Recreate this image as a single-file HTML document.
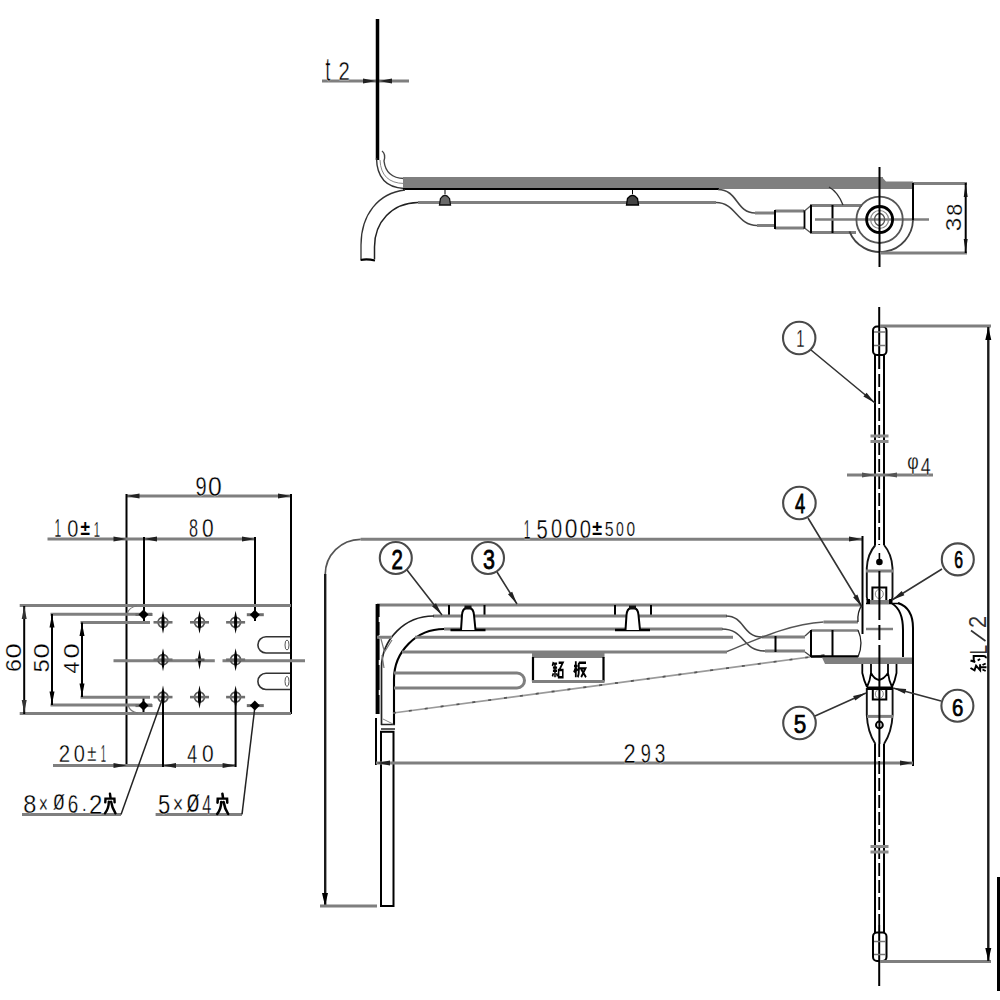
<!DOCTYPE html>
<html><head><meta charset="utf-8">
<style>
html,body{margin:0;padding:0;background:#fff;width:1000px;height:1000px;overflow:hidden}
svg{display:block;position:absolute;left:0;top:0}
text{font-family:"Liberation Sans",sans-serif}
.sr{font-family:"Liberation Serif",serif}
</style></head><body>
<svg width="1000" height="1000" viewBox="0 0 1000 1000">
<rect x="0" y="0" width="1000" height="1000" fill="#fff"/>

<!-- ============ TOP VIEW ============ -->
<g id="top">
<!-- t2 -->
<line x1="322" y1="81" x2="409" y2="81" stroke="#7f7f7f" stroke-width="3"/>
<line x1="377.5" y1="19" x2="377.5" y2="160" stroke="#000" stroke-width="3.5"/>
<path d="M376,81 L363,78.5 L363,83.5 Z M379,81 L392,78.5 L392,83.5 Z" fill="#222"/>
<!-- bend double lines -->
<path d="M376.5,158 Q377,187 404,188.5" fill="none" stroke="#333" stroke-width="1.4"/>
<path d="M380,160 Q381,183 404,183.5" fill="none" stroke="#888" stroke-width="1"/>
<path d="M382,151 Q386,154 384,161 Q386,178 404,178.5" fill="none" stroke="#444" stroke-width="1.4"/>
<!-- gray bar -->
<rect x="403" y="177" width="480" height="12" fill="#7f7f7f"/>
<path d="M882,177 L886,181.5 L913,181.5 L913,189 L882,189 Z" fill="#7f7f7f"/>
<line x1="913" y1="183.5" x2="967" y2="183.5" stroke="#7f7f7f" stroke-width="3"/>
<line x1="403" y1="189" x2="719" y2="189" stroke="#000" stroke-width="2.2"/>
<!-- lower hook -->
<path d="M405,190 C378,193 361,215 361,245 L361,259" fill="none" stroke="#333" stroke-width="1.3"/>
<path d="M418,202.5 C392,203 374.5,222 374.5,247 L374.5,259" fill="none" stroke="#222" stroke-width="1.5"/>
<path d="M360.5,260 Q367,258.5 375,260.5" fill="none" stroke="#000" stroke-width="2.2"/>
<line x1="418" y1="202.5" x2="716" y2="202.5" stroke="#7f7f7f" stroke-width="3"/>
<!-- bumps -->
<path d="M439.5,205 L440.5,198.5 Q445,192 449.5,198.5 L450.5,205 Z" fill="#6a6a6a" stroke="#111" stroke-width="1.3"/>
<line x1="445" y1="189" x2="445" y2="194" stroke="#000" stroke-width="1"/>
<path d="M626.5,205 L627.5,198.5 Q632.5,192 637.5,198.5 L638.5,205 Z" fill="#444" stroke="#000" stroke-width="1.3"/>
<line x1="632.5" y1="189" x2="632.5" y2="194" stroke="#000" stroke-width="1"/>
<!-- S curves -->
<path d="M718,189.5 C738,189.5 736,213 755,213" fill="none" stroke="#444" stroke-width="1.6"/>
<path d="M755,213 H775" stroke="#7f7f7f" stroke-width="3"/>
<path d="M716,202.5 C736,202.5 737,225.5 757,225.5" fill="none" stroke="#444" stroke-width="1.6"/>
<path d="M757,225.5 H775" stroke="#7f7f7f" stroke-width="3"/>
<!-- ferrule -->
<line x1="775" y1="211" x2="804" y2="211" stroke="#7f7f7f" stroke-width="3"/>
<line x1="775" y1="228" x2="804" y2="228" stroke="#7f7f7f" stroke-width="3"/>
<line x1="775" y1="210" x2="775" y2="229" stroke="#000" stroke-width="2"/>
<line x1="804.5" y1="210" x2="804.5" y2="229" stroke="#000" stroke-width="1.8"/>
<path d="M804.5,211 L811,205.5 M804.5,228 L811,233" stroke="#555" stroke-width="1.3"/>
<line x1="810" y1="205.5" x2="862" y2="205.5" stroke="#7f7f7f" stroke-width="3"/>
<line x1="810" y1="232.5" x2="856" y2="232.5" stroke="#7f7f7f" stroke-width="3"/>
<line x1="811" y1="205" x2="811" y2="233" stroke="#000" stroke-width="2"/>
<line x1="832.5" y1="205" x2="832.5" y2="233" stroke="#000" stroke-width="2"/>
<line x1="815" y1="219.5" x2="929" y2="219.5" stroke="#7f7f7f" stroke-width="2.5"/>
<!-- small arc -->
<path d="M829,187 Q838,192 843,205" fill="none" stroke="#333" stroke-width="1.3"/>
<!-- eye -->
<path d="M849.4,231.3 A33,33 0 0 0 913,220" fill="none" stroke="#444" stroke-width="1.8"/>
<circle cx="879.6" cy="219.8" r="23.2" fill="none" stroke="#555" stroke-width="1.8"/>
<circle cx="879.6" cy="219.5" r="13" fill="none" stroke="#000" stroke-width="2.8"/>
<circle cx="879.6" cy="219.5" r="9" fill="none" stroke="#888" stroke-width="1.2"/>
<ellipse cx="879.6" cy="219.5" rx="5" ry="6" fill="none" stroke="#555" stroke-width="1.3"/>
<line x1="879.5" y1="167" x2="879.5" y2="267" stroke="#000" stroke-width="2"/>
<line x1="913" y1="183" x2="913" y2="220" stroke="#000" stroke-width="2"/>
<line x1="880" y1="253" x2="967" y2="253" stroke="#7f7f7f" stroke-width="3"/>
<!-- 38 dim -->
<line x1="965.7" y1="183" x2="965.7" y2="253" stroke="#000" stroke-width="2"/>
<path d="M965.7,184 L963.7,197 L967.7,197 Z M965.7,252 L963.7,239 L967.7,239 Z" fill="#111"/>
</g>


<!-- ============ PLAN VIEW ============ -->
<g id="plan">
<!-- 15000 dim -->
<path d="M862,539.3 L360.6,539.3" fill="none" stroke="#7f7f7f" stroke-width="3"/>
<path d="M360.6,539.3 A35.4,35.4 0 0 0 325.2,574.7" fill="none" stroke="#555" stroke-width="1.7"/>
<line x1="325.2" y1="574" x2="325.2" y2="906" stroke="#1a1a1a" stroke-width="2.4"/>
<path d="M325,906 L322,893 L328,893 Z" fill="#000"/>
<line x1="320" y1="906" x2="377" y2="906" stroke="#7f7f7f" stroke-width="3"/>
<path d="M862,539 L849,536.5 L849,541.5 Z" fill="#222"/>
<line x1="862.5" y1="536" x2="862.5" y2="634" stroke="#000" stroke-width="2"/>

<!-- outline -->
<line x1="377" y1="605" x2="862" y2="605" stroke="#7f7f7f" stroke-width="3"/>
<line x1="377.6" y1="604" x2="377.6" y2="714" stroke="#000" stroke-width="4"/>
<path d="M379.5,617 v5 M379.5,635 v4 M379.5,660 v5 M379.5,690 v5" stroke="#fff" stroke-width="1.5"/>
<line x1="376" y1="718" x2="376" y2="765" stroke="#000" stroke-width="2"/>
<path d="M449,605 V615 M484.5,605 V615 M615,605 V615 M651,605 V615" stroke="#000" stroke-width="2"/>
<!-- pipe -->
<path d="M727,616 L433,616" fill="none" stroke="#7f7f7f" stroke-width="3"/>
<path d="M434,616 A52,52 0 0 0 381.5,668 L381.5,725" fill="none" stroke="#222" stroke-width="1.7"/>
<path d="M722.5,629 L444,629" fill="none" stroke="#7f7f7f" stroke-width="3"/>
<path d="M444,629 A50,50 0 0 0 394,679 L394,725" fill="none" stroke="#000" stroke-width="2.1"/>
<path d="M381,724.5 H395 M381,729 H395" stroke="#222" stroke-width="1.5"/>
<path d="M383,719 L393,724" stroke="#888" stroke-width="1"/>
<rect x="381" y="731.8" width="12.5" height="174.2" fill="none" stroke="#000" stroke-width="2"/>
<!-- inner lines -->
<path d="M377,637.2 H392 M415,637.2 H733" stroke="#7f7f7f" stroke-width="3"/>
<path d="M402,652 H727" stroke="#7f7f7f" stroke-width="3"/>
<path d="M394,673 H517 A7.5,7.5 0 0 1 517,688 H394" fill="none" stroke="#7f7f7f" stroke-width="3"/>
<!-- hatching at left -->
<path d="M381,639 L384.5,652 L392,640 M382,655 L384,668" fill="none" stroke="#777" stroke-width="1.2"/>
<!-- nameplate -->
<rect x="532" y="651" width="72.5" height="7" fill="#7f7f7f"/>
<path d="M533,657 V681.5 M603.5,657 V681.5" stroke="#000" stroke-width="2.2"/>
<line x1="532" y1="681.5" x2="604.5" y2="681.5" stroke="#7f7f7f" stroke-width="3"/>
<!-- diagonal dashed -->
<line x1="393" y1="713" x2="825" y2="655" stroke="#9a9a9a" stroke-width="1.7"/>
<line x1="393" y1="713" x2="825" y2="655" stroke="#555" stroke-width="1.7" stroke-dasharray="3,13"/>
<!-- clips -->
<g id="clip1">
<path d="M450.5,630 H485.5" stroke="#000" stroke-width="2.6"/>
<path d="M461,630 L462,615 Q462.5,609 466,608 H470 Q473.5,609 474,615 L475.5,630" fill="#fff" stroke="#000" stroke-width="2"/>
<rect x="464.5" y="605.5" width="7" height="4" fill="#111"/>
</g>
<g transform="translate(164.5,0)">
<path d="M450.5,630 H485.5" stroke="#000" stroke-width="2.6"/>
<path d="M461,630 L462,615 Q462.5,609 466,608 H470 Q473.5,609 474,615 L475.5,630" fill="#fff" stroke="#000" stroke-width="2"/>
<rect x="464.5" y="605.5" width="7" height="4" fill="#111"/>
</g>
<!-- S curves -->
<path d="M726,616 C745,616 742,637 762,637" fill="none" stroke="#444" stroke-width="1.6"/>
<path d="M762,637 H805" stroke="#7f7f7f" stroke-width="3"/>
<path d="M722,629 C745,629 742,651 765,651" fill="none" stroke="#444" stroke-width="1.6"/>
<path d="M765,651 H805" stroke="#7f7f7f" stroke-width="3"/>
<path d="M727,651.5 C760,638 790,624 823.5,622" fill="none" stroke="#555" stroke-width="1.5"/>
<path d="M823.5,622 H858" stroke="#7f7f7f" stroke-width="3"/>
<line x1="775.5" y1="636" x2="775.5" y2="652" stroke="#000" stroke-width="2"/>
<!-- ferrule -->
<path d="M805,636 L811,630.5 M805,652 L811,656.5" stroke="#444" stroke-width="1.3"/>
<line x1="811" y1="630.5" x2="858" y2="630.5" stroke="#7f7f7f" stroke-width="2.5"/>
<line x1="811" y1="656.5" x2="858" y2="656.5" stroke="#000" stroke-width="2.5"/>
<line x1="811" y1="630" x2="811" y2="657" stroke="#000" stroke-width="2"/>
<line x1="832.5" y1="630" x2="832.5" y2="657" stroke="#000" stroke-width="2"/>
<path d="M858,630 Q864,643 858,657" fill="none" stroke="#222" stroke-width="1.3"/>
<path d="M862,605 Q857,612 858,622" fill="none" stroke="#222" stroke-width="1.3"/>
<!-- gray base bar -->
<path d="M822,657.5 H913 V664 H825 Z" fill="#7f7f7f"/>
<!-- fitting body -->
<line x1="866" y1="603.5" x2="900" y2="603.5" stroke="#000" stroke-width="1.5"/>
<path d="M892,603.5 Q903,610 903,630 V657" fill="none" stroke="#000" stroke-width="2"/>
<path d="M898,603 Q913,608 913,628 V766" fill="none" stroke="#000" stroke-width="2"/>
<line x1="866" y1="629" x2="893" y2="629" stroke="#7f7f7f" stroke-width="2.5"/>
<!-- W shape below bar -->
<path d="M862.3,664 V673 Q864,681 867,687 M871,664 V673 Q870,681 867,687 M871,673 Q874,679 879,680 M888,664 V673 Q884,679 879,680 M888,673 Q889,681 892,687 M896.5,664 V673 Q895,681 892,687" fill="none" stroke="#000" stroke-width="1.8"/>
<!-- upper eye -->
<path d="M875.4,545 Q867.5,554 866.8,568 V597 Q867,600 869,601 M884,545 Q891.8,554 892.5,568 V597 Q892.3,600 890.5,601" fill="none" stroke="#111" stroke-width="1.9"/>
<line x1="866" y1="571" x2="893" y2="571" stroke="#7f7f7f" stroke-width="3"/>
<circle cx="879.4" cy="562" r="3.3" fill="#000"/>
<path d="M879.4,553 V562" stroke="#000" stroke-width="1.6"/>
<path d="M872.4,600 V587.5 H886.3 V600" fill="none" stroke="#000" stroke-width="2"/>
<ellipse cx="879.3" cy="594" rx="4" ry="4.5" fill="none" stroke="#888" stroke-width="1"/>
<rect x="867" y="600" width="25" height="4" fill="#7f7f7f"/>
<rect x="866.5" y="599" width="3.5" height="5" fill="#000"/>
<rect x="889" y="599" width="3.5" height="5" fill="#000"/>
<!-- lower eye -->
<path d="M866.8,688 V715 Q867.5,732 875.4,744 M892.6,688 V715 Q891.8,732 884,744" fill="none" stroke="#111" stroke-width="1.9"/>
<line x1="867" y1="716.4" x2="893" y2="716.4" stroke="#7f7f7f" stroke-width="3"/>
<circle cx="879.4" cy="725" r="3.4" fill="none" stroke="#000" stroke-width="2"/>
<path d="M872.8,689 V699.5 H886.3 V689" fill="none" stroke="#000" stroke-width="2"/>
<ellipse cx="879.3" cy="694" rx="4" ry="4.5" fill="none" stroke="#888" stroke-width="1"/>
<rect x="866.8" y="686.5" width="26.2" height="3.5" fill="#000"/>
<!-- 293 dim -->
<line x1="376" y1="763" x2="913" y2="763" stroke="#7f7f7f" stroke-width="3"/>
<path d="M377,763 L390,760.5 L390,765.5 Z M913,763 L900,760.5 L900,765.5 Z" fill="#222"/>
</g>

<!-- ============ ROD ============ -->
<g id="rod">
<path d="M875,355 V545 M884,355 V545 M875,744 V933 M884,744 V933" stroke="#000" stroke-width="2"/>
<line x1="879.2" y1="307" x2="879.2" y2="369" stroke="#000" stroke-width="2"/>
<line x1="879.2" y1="374" x2="879.2" y2="545" stroke="#000" stroke-width="1.8" stroke-dasharray="13,4"/>
<path d="M879.4,571 V620 M879.4,625 V640 M879.4,645 V744" stroke="#000" stroke-width="2"/>
<line x1="879.2" y1="744" x2="879.2" y2="925" stroke="#000" stroke-width="1.8" stroke-dasharray="13,4"/>
<line x1="879.2" y1="925" x2="879.2" y2="986" stroke="#000" stroke-width="2"/>
<rect x="873" y="326.5" width="13.5" height="28.5" rx="4" fill="none" stroke="#000" stroke-width="2"/>
<path d="M874,332 H886 M874,345.5 H886" stroke="#777" stroke-width="1.5"/>
<rect x="873" y="932.5" width="13.5" height="28.5" rx="4" fill="none" stroke="#000" stroke-width="2"/>
<path d="M874,941.5 H886 M874,954.5 H886" stroke="#777" stroke-width="1.5"/>
<path d="M870.5,436 H888.5 M870.5,441.5 H888.5" stroke="#8a8a8a" stroke-width="3"/>
<path d="M870.5,846.5 H888.5 M870.5,852 H888.5" stroke="#8a8a8a" stroke-width="3"/>
<!-- phi4 -->
<line x1="847" y1="475" x2="933" y2="475" stroke="#7f7f7f" stroke-width="3"/>
<path d="M875,475 L862,472.5 L862,477.5 Z M884,475 L897,472.5 L897,477.5 Z" fill="#555"/>
<!-- L/2 dim -->
<line x1="880" y1="326" x2="991" y2="326" stroke="#7f7f7f" stroke-width="3"/>
<line x1="880" y1="961.5" x2="991" y2="961.5" stroke="#7f7f7f" stroke-width="3"/>
<line x1="988.3" y1="327" x2="988.3" y2="961" stroke="#1a1a1a" stroke-width="2.4"/>
<path d="M988.3,327 L985.3,340 L991.3,340 Z M988.3,961 L985.3,948 L991.3,948 Z" fill="#000"/>
<rect x="997" y="877" width="3" height="114" fill="#000"/>
</g>


<!-- ============ BALLOONS ============ -->
<g id="balloons" fill="none" stroke="#4a4a4a" stroke-width="2.1">
<circle cx="799.2" cy="338" r="16.2"/>
<circle cx="395.8" cy="558" r="16"/>
<circle cx="488" cy="558" r="16"/>
<circle cx="799.4" cy="503" r="16.3"/>
<circle cx="799.5" cy="723" r="16.3"/>
<circle cx="957.8" cy="559.4" r="16"/>
<circle cx="957.4" cy="705.8" r="16"/>
<path d="M811,350 L875,403 M407,570 L442,615 M497,572 L517,604 M808,518 L862,607 M815,716 L866,693 M942,569 L892,600 M941,701 L893,688" stroke="#333" stroke-width="1.6"/>
</g>
<g fill="#222">
<path d="M875,403 L863.4,396.6 L866.6,392.8 Z"/>
<path d="M442,615 L432.0,606.3 L436.0,603.2 Z"/>
<path d="M517,604 L508.0,594.3 L512.2,591.7 Z"/>
<path d="M862,607 L853.1,597.2 L857.4,594.6 Z"/>
<path d="M866,693 L855.2,700.6 L853.1,696.1 Z"/>
<path d="M892,600 L901.7,591.0 L904.4,595.3 Z"/>
<path d="M893,688 L906.2,689.0 L904.9,693.8 Z"/>
</g>

<!-- ============ PLATE VIEW ============ -->
<g id="plate">
<!-- 90 -->
<line x1="126.5" y1="496" x2="291" y2="496" stroke="#7f7f7f" stroke-width="3"/>
<path d="M126.5,496 L139.5,493.5 L139.5,498.5 Z M291,496 L278,493.5 L278,498.5 Z" fill="#222"/>
<line x1="126.5" y1="494" x2="126.5" y2="767" stroke="#000" stroke-width="2"/>
<line x1="291" y1="494" x2="291" y2="714" stroke="#000" stroke-width="2"/>
<!-- 80 / 10±1 -->
<line x1="47.5" y1="539" x2="255" y2="539" stroke="#7f7f7f" stroke-width="3"/>
<path d="M126.5,539 L113.5,536.5 L113.5,541.5 Z M144,539 L157,536.5 L157,541.5 Z M255,539 L242,536.5 L242,541.5 Z" fill="#222"/>
<line x1="144" y1="537" x2="144" y2="621" stroke="#000" stroke-width="2"/>
<line x1="255" y1="537" x2="255" y2="621" stroke="#000" stroke-width="2"/>
<line x1="143.5" y1="698" x2="143.5" y2="714" stroke="#000" stroke-width="2"/>
<!-- plate lines -->
<line x1="19.7" y1="605.5" x2="291" y2="605.5" stroke="#7f7f7f" stroke-width="3"/>
<line x1="19.7" y1="713.5" x2="291" y2="713.5" stroke="#7f7f7f" stroke-width="3"/>
<line x1="50.5" y1="614.2" x2="152" y2="614.2" stroke="#7f7f7f" stroke-width="3"/>
<line x1="50.5" y1="705" x2="152" y2="705" stroke="#7f7f7f" stroke-width="3"/>
<line x1="80.5" y1="622.5" x2="150" y2="622.5" stroke="#7f7f7f" stroke-width="3"/>
<line x1="80.5" y1="697.2" x2="150" y2="697.2" stroke="#7f7f7f" stroke-width="3"/>
<path d="M113.5,660.7 H214.8 M222.5,660.7 H305" stroke="#7f7f7f" stroke-width="3"/>
<!-- 60/50/40 verticals -->
<line x1="24.2" y1="606" x2="24.2" y2="714" stroke="#000" stroke-width="2"/>
<path d="M24.2,606 L21.7,619 L26.7,619 Z M24.2,713 L21.7,700 L26.7,700 Z" fill="#333"/>
<line x1="52" y1="614" x2="52" y2="705" stroke="#000" stroke-width="2"/>
<path d="M52,614.5 L49.5,627.5 L54.5,627.5 Z M52,704.5 L49.5,691.5 L54.5,691.5 Z" fill="#000"/>
<line x1="82" y1="622.5" x2="82" y2="697" stroke="#000" stroke-width="2"/>
<path d="M82,623 L79.5,636 L84.5,636 Z M82,696.5 L79.5,683.5 L84.5,683.5 Z" fill="#000"/>
<!-- chamfer marks -->
<path d="M127,614 Q129,607 137,606 M128,705 Q130,712 138,713" fill="none" stroke="#777" stroke-width="1.2"/>
<!-- slots -->
<path d="M290,636.8 H266 A8.1,8.1 0 0 0 266,653 H290" fill="none" stroke="#333" stroke-width="1.6"/>
<path d="M290,673.3 H266 A8.1,8.1 0 0 0 266,689.5 H290" fill="none" stroke="#333" stroke-width="1.6"/>
<ellipse cx="287" cy="645" rx="2" ry="5" fill="none" stroke="#555" stroke-width="1"/>
<ellipse cx="287" cy="681.4" rx="2" ry="5" fill="none" stroke="#555" stroke-width="1"/>
<!-- 20±1 / 40 -->
<line x1="53" y1="765.6" x2="235.6" y2="765.6" stroke="#7f7f7f" stroke-width="3"/>
<path d="M126.5,765.6 L113.5,763 L113.5,768 Z M163,765.6 L176,763 L176,768 Z M235.6,765.6 L222.6,763 L222.6,768 Z" fill="#222"/>
<line x1="163" y1="697" x2="163" y2="767" stroke="#000" stroke-width="2"/>
<line x1="235.6" y1="697" x2="235.6" y2="767" stroke="#000" stroke-width="2"/>
<!-- notes -->
<line x1="22" y1="814.4" x2="121" y2="814.4" stroke="#7f7f7f" stroke-width="3"/>
<line x1="121" y1="814.4" x2="163" y2="697" stroke="#222" stroke-width="1.5"/>
<line x1="155.6" y1="814.4" x2="242" y2="814.4" stroke="#7f7f7f" stroke-width="3"/>
<line x1="242" y1="814.4" x2="255" y2="706" stroke="#222" stroke-width="1.5"/>
</g>

<!-- holes -->
<g id="holes">
<circle cx="163" cy="622.3" r="5" fill="none" stroke="#555" stroke-width="1.7"/>
<path d="M153.5,622.3 H172.5" stroke="#6f6f6f" stroke-width="2.6"/>
<path d="M163,610.8 L164.5,618.3 L164.5,626.3 L163,633.8 L161.5,626.3 L161.5,618.3 Z" fill="#000"/>
<circle cx="199.5" cy="622.3" r="5" fill="none" stroke="#555" stroke-width="1.7"/>
<path d="M190.0,622.3 H209.0" stroke="#6f6f6f" stroke-width="2.6"/>
<path d="M199.5,610.8 L201.0,618.3 L201.0,626.3 L199.5,633.8 L198.0,626.3 L198.0,618.3 Z" fill="#000"/>
<circle cx="235.6" cy="622.3" r="5" fill="none" stroke="#555" stroke-width="1.7"/>
<path d="M226.1,622.3 H245.1" stroke="#6f6f6f" stroke-width="2.6"/>
<path d="M235.6,610.8 L237.1,618.3 L237.1,626.3 L235.6,633.8 L234.1,626.3 L234.1,618.3 Z" fill="#000"/>
<circle cx="163" cy="659.7" r="5" fill="none" stroke="#555" stroke-width="1.7"/>
<path d="M153.5,659.7 H172.5" stroke="#6f6f6f" stroke-width="2.6"/>
<path d="M163,648.2 L164.5,655.7 L164.5,663.7 L163,671.2 L161.5,663.7 L161.5,655.7 Z" fill="#000"/>
<path d="M199.5,649.7 L201.3,659.7 L199.5,669.7 L197.7,659.7 Z" fill="#000"/>
<path d="M195.5,659.7 L204.5,659.7" stroke="#555" stroke-width="2.5"/>
<circle cx="235.6" cy="659.7" r="5" fill="none" stroke="#555" stroke-width="1.7"/>
<path d="M226.1,659.7 H245.1" stroke="#6f6f6f" stroke-width="2.6"/>
<path d="M235.6,648.2 L237.1,655.7 L237.1,663.7 L235.6,671.2 L234.1,663.7 L234.1,655.7 Z" fill="#000"/>
<circle cx="163" cy="697.1" r="5" fill="none" stroke="#555" stroke-width="1.7"/>
<path d="M153.5,697.1 H172.5" stroke="#6f6f6f" stroke-width="2.6"/>
<path d="M163,685.6 L164.5,693.1 L164.5,701.1 L163,708.6 L161.5,701.1 L161.5,693.1 Z" fill="#000"/>
<circle cx="199.5" cy="697.1" r="5" fill="none" stroke="#555" stroke-width="1.7"/>
<path d="M190.0,697.1 H209.0" stroke="#6f6f6f" stroke-width="2.6"/>
<path d="M199.5,685.6 L201.0,693.1 L201.0,701.1 L199.5,708.6 L198.0,701.1 L198.0,693.1 Z" fill="#000"/>
<circle cx="235.6" cy="697.1" r="5" fill="none" stroke="#555" stroke-width="1.7"/>
<path d="M226.1,697.1 H245.1" stroke="#6f6f6f" stroke-width="2.6"/>
<path d="M235.6,685.6 L237.1,693.1 L237.1,701.1 L235.6,708.6 L234.1,701.1 L234.1,693.1 Z" fill="#000"/>
<path d="M135.5,614.5 H152.5" stroke="#6f6f6f" stroke-width="3"/>
<path d="M143.5,609.5 L148.5,614.5 L143.5,619.5 L138.5,614.5 Z" fill="#000"/>
<path d="M135.5,705.6 H152.5" stroke="#6f6f6f" stroke-width="3"/>
<path d="M143.5,700.6 L148.5,705.6 L143.5,710.6 L138.5,705.6 Z" fill="#000"/>
<path d="M246.8,614.7 H263.8" stroke="#6f6f6f" stroke-width="3"/>
<path d="M254.8,609.7 L259.8,614.7 L254.8,619.7 L249.8,614.7 Z" fill="#000"/>
<path d="M246.8,705.6 H263.8" stroke="#6f6f6f" stroke-width="3"/>
<path d="M254.8,700.6 L259.8,705.6 L254.8,710.6 L249.8,705.6 Z" fill="#000"/>
</g>
<g id="texts" fill="#000">
<text transform="translate(325.53,80.67) scale(0.1731,0.3298)" font-family="Liberation Sans" font-size="100" font-weight="normal" stroke="#fff" stroke-width="1.2">t</text>
<text transform="translate(338.39,79.94) scale(0.2024,0.2567)" font-family="Liberation Sans" font-size="100" font-weight="normal" stroke="#fff" stroke-width="1.2">2</text>
<text transform="translate(961.28,231.22) rotate(-90) scale(0.2439,0.2164)" font-family="Liberation Sans" font-size="100" font-weight="normal" stroke="#fff" stroke-width="1.2">3</text>
<text transform="translate(961.95,215.67) rotate(-90) scale(0.2167,0.2265)" font-family="Liberation Sans" font-size="100" font-weight="normal" stroke="#fff" stroke-width="1.2">8</text>
<text transform="translate(195.40,495.93) scale(0.2000,0.2746)" font-family="Liberation Sans" font-size="100" font-weight="normal" stroke="#fff" stroke-width="1.2">9</text>
<text transform="translate(208.01,495.66) scale(0.2476,0.2706)" font-family="Liberation Sans" font-size="100" font-weight="normal" stroke="#fff" stroke-width="1.2">0</text>
<text transform="translate(188.95,536.89) scale(0.1619,0.2529)" font-family="Liberation Sans" font-size="100" font-weight="normal" stroke="#fff" stroke-width="1.2">8</text>
<text transform="translate(201.96,536.89) scale(0.2095,0.2529)" font-family="Liberation Sans" font-size="100" font-weight="normal" stroke="#fff" stroke-width="1.2">0</text>
<text transform="translate(54.62,537.20) scale(0.1200,0.2545)" font-family="Liberation Sans" font-size="100" font-weight="normal" stroke="#fff" stroke-width="1.2">1</text>
<text transform="translate(67.20,536.71) scale(0.2000,0.2471)" font-family="Liberation Sans" font-size="100" font-weight="normal" stroke="#fff" stroke-width="1.2">0</text>
<text transform="translate(80.51,534.50) scale(0.1723,0.2053)" font-family="Liberation Sans" font-size="100" font-weight="bold">±</text>
<text transform="translate(93.70,537.00) scale(0.1114,0.2197)" font-family="Liberation Sans" font-size="100" font-weight="normal" stroke="#fff" stroke-width="1.2">1</text>
<text transform="translate(20.57,658.60) rotate(-90) scale(0.2738,0.2132)" font-family="Liberation Sans" font-size="100" font-weight="normal" stroke="#fff" stroke-width="1.2">0</text>
<text transform="translate(20.57,671.93) rotate(-90) scale(0.2326,0.2132)" font-family="Liberation Sans" font-size="100" font-weight="normal" stroke="#fff" stroke-width="1.2">6</text>
<text transform="translate(48.57,658.60) rotate(-90) scale(0.2738,0.2132)" font-family="Liberation Sans" font-size="100" font-weight="normal" stroke="#fff" stroke-width="1.2">0</text>
<text transform="translate(48.78,672.42) rotate(-90) scale(0.2375,0.2197)" font-family="Liberation Sans" font-size="100" font-weight="normal" stroke="#fff" stroke-width="1.2">5</text>
<text transform="translate(78.57,658.60) rotate(-90) scale(0.2738,0.2132)" font-family="Liberation Sans" font-size="100" font-weight="normal" stroke="#fff" stroke-width="1.2">0</text>
<text transform="translate(78.78,673.43) rotate(-90) scale(0.2128,0.2197)" font-family="Liberation Sans" font-size="100" font-weight="normal" stroke="#fff" stroke-width="1.2">4</text>
<text transform="translate(58.78,761.96) scale(0.2049,0.2418)" font-family="Liberation Sans" font-size="100" font-weight="normal" stroke="#fff" stroke-width="1.2">2</text>
<text transform="translate(73.80,761.72) scale(0.2000,0.2382)" font-family="Liberation Sans" font-size="100" font-weight="normal" stroke="#fff" stroke-width="1.2">0</text>
<text transform="translate(87.14,760.70) scale(0.1660,0.2474)" font-family="Liberation Sans" font-size="100" font-weight="normal" stroke="#fff" stroke-width="1.2">±</text>
<text transform="translate(100.75,762.20) scale(0.0943,0.2455)" font-family="Liberation Sans" font-size="100" font-weight="normal" stroke="#fff" stroke-width="1.2">1</text>
<text transform="translate(187.24,762.55) scale(0.1787,0.2485)" font-family="Liberation Sans" font-size="100" font-weight="normal" stroke="#fff" stroke-width="1.2">4</text>
<text transform="translate(201.96,762.32) scale(0.2095,0.2412)" font-family="Liberation Sans" font-size="100" font-weight="normal" stroke="#fff" stroke-width="1.2">0</text>
<text transform="translate(23.26,813.17) scale(0.2357,0.2647)" font-family="Liberation Sans" font-size="100" font-weight="normal" stroke="#fff" stroke-width="1.2">8</text>
<text transform="translate(38.84,813.11) scale(0.1575,0.2550)" font-family="Liberation Sans" font-size="100" font-weight="normal" stroke="#fff" stroke-width="1.2">×</text>
<text transform="translate(52.80,809.84) scale(0.2000,0.2889)" font-family="Liberation Sans" font-size="100" font-weight="normal" stroke="#fff" stroke-width="1.2">ø</text>
<text transform="translate(67.65,813.17) scale(0.1884,0.2647)" font-family="Liberation Sans" font-size="100" font-weight="normal" stroke="#fff" stroke-width="1.2">6</text>
<text transform="translate(81.95,810.80) scale(0.1636,0.2000)" font-family="Liberation Sans" font-size="100" font-weight="normal" stroke="#fff" stroke-width="1.2">.</text>
<text transform="translate(89.03,813.72) scale(0.2415,0.2776)" font-family="Liberation Sans" font-size="100" font-weight="normal" stroke="#fff" stroke-width="1.2">2</text>
<text transform="translate(158.08,813.72) scale(0.2200,0.2848)" font-family="Liberation Sans" font-size="100" font-weight="normal" stroke="#fff" stroke-width="1.2">5</text>
<text transform="translate(172.76,812.98) scale(0.1800,0.2600)" font-family="Liberation Sans" font-size="100" font-weight="normal" stroke="#fff" stroke-width="1.2">×</text>
<text transform="translate(186.09,811.90) scale(0.2286,0.3259)" font-family="Liberation Sans" font-size="100" font-weight="normal" stroke="#fff" stroke-width="1.2">ø</text>
<text transform="translate(202.28,813.72) scale(0.1617,0.2788)" font-family="Liberation Sans" font-size="100" font-weight="normal" stroke="#fff" stroke-width="1.2">4</text>
<text transform="translate(523.72,539.00) scale(0.1200,0.2773)" font-family="Liberation Sans" font-size="100" font-weight="normal" stroke="#fff" stroke-width="1.2">1</text>
<text transform="translate(536.49,538.72) scale(0.2025,0.2773)" font-family="Liberation Sans" font-size="100" font-weight="normal" stroke="#fff" stroke-width="1.2">5</text>
<text transform="translate(551.00,538.46) scale(0.2000,0.2691)" font-family="Liberation Sans" font-size="100" font-weight="normal" stroke="#fff" stroke-width="1.2">0</text>
<text transform="translate(564.69,538.46) scale(0.2286,0.2691)" font-family="Liberation Sans" font-size="100" font-weight="normal" stroke="#fff" stroke-width="1.2">0</text>
<text transform="translate(579.69,537.89) scale(0.2024,0.2574)" font-family="Liberation Sans" font-size="100" font-weight="normal" stroke="#fff" stroke-width="1.2">0</text>
<text transform="translate(592.19,534.50) scale(0.1787,0.2053)" font-family="Liberation Sans" font-size="100" font-weight="bold">±</text>
<text transform="translate(604.64,536.29) scale(0.1600,0.2076)" font-family="Liberation Sans" font-size="100" font-weight="normal" stroke="#fff" stroke-width="1.2">5</text>
<text transform="translate(616.04,536.10) scale(0.1405,0.2015)" font-family="Liberation Sans" font-size="100" font-weight="normal" stroke="#fff" stroke-width="1.2">0</text>
<text transform="translate(626.38,536.10) scale(0.1548,0.2015)" font-family="Liberation Sans" font-size="100" font-weight="normal" stroke="#fff" stroke-width="1.2">0</text>
<text transform="translate(623.52,762.72) scale(0.2195,0.2776)" font-family="Liberation Sans" font-size="100" font-weight="normal" stroke="#fff" stroke-width="1.2">2</text>
<text transform="translate(640.66,762.72) scale(0.1814,0.2776)" font-family="Liberation Sans" font-size="100" font-weight="normal" stroke="#fff" stroke-width="1.2">9</text>
<text transform="translate(654.65,762.72) scale(0.1902,0.2776)" font-family="Liberation Sans" font-size="100" font-weight="normal" stroke="#fff" stroke-width="1.2">3</text>
<text transform="translate(907.30,469.11) scale(0.1760,0.2235)" font-family="Liberation Sans" font-size="100" font-weight="normal" stroke="#fff" stroke-width="1.2">φ</text>
<text transform="translate(920.84,474.76) scale(0.1787,0.2424)" font-family="Liberation Sans" font-size="100" font-weight="normal" stroke="#fff" stroke-width="1.2">4</text>
<text transform="translate(796.26,346.80) scale(0.1486,0.2364)" font-family="Liberation Sans" font-size="100" font-weight="normal" stroke="#fff" stroke-width="1.2">1</text>
<text transform="translate(391.38,568.53) scale(0.2049,0.2746)" font-family="Liberation Serif" font-size="100" font-weight="normal" stroke="#000" stroke-width="3">2</text>
<text transform="translate(482.93,568.52) scale(0.2146,0.2806)" font-family="Liberation Serif" font-size="100" font-weight="normal" stroke="#000" stroke-width="3">3</text>
<text transform="translate(795.03,512.72) scale(0.1830,0.2788)" font-family="Liberation Serif" font-size="100" font-weight="normal" stroke="#000" stroke-width="3">4</text>
<text transform="translate(793.65,732.75) scale(0.2250,0.2500)" font-family="Liberation Serif" font-size="100" font-weight="normal" stroke="#000" stroke-width="3">5</text>
<text transform="translate(954.17,568.32) scale(0.1581,0.2412)" font-family="Liberation Serif" font-size="100" font-weight="normal" stroke="#000" stroke-width="3">6</text>
<text transform="translate(951.98,715.52) scale(0.2047,0.2412)" font-family="Liberation Serif" font-size="100" font-weight="normal" stroke="#000" stroke-width="3">6</text>
<text transform="translate(986.25,627.88) rotate(-90) scale(0.2195,0.2463)" font-family="Liberation Serif" font-size="100" font-weight="normal" fill="#333">2</text>
<text transform="translate(986.50,654.52) rotate(-90) scale(0.1731,0.2385)" font-family="Liberation Serif" font-size="100" font-weight="normal" fill="#333">L</text>
</g>
<g id="cjk">
<path d="M985.5,641 L971,630.5" stroke="#333" stroke-width="1.6"/>
<g transform="translate(104.4,793.6) scale(1.110,0.990)"><path d="M5,0 L5.5,4 M0.8,9 L1,5 L9,5 L9.2,9 M4,8 Q4,15 0.5,20 M6,8 Q7,15 10,20" fill="none" stroke="#000" stroke-width="2.2" stroke-linecap="round"/></g>
<g transform="translate(216.6,793.6) scale(1.160,1.020)"><path d="M5,0 L5.5,4 M0.8,9 L1,5 L9,5 L9.2,9 M4,8 Q4,15 0.5,20 M6,8 Q7,15 10,20" fill="none" stroke="#000" stroke-width="2.2" stroke-linecap="round"/></g>
<g transform="translate(552.4,661.2) scale(0.52,0.8)"><path d="M2,1 L0,6 M2,3 L9,3 M1,8 H9 M1,12 H9 M5,3 V20 M2,15 L0,19 M8,15 L10,19" fill="none" stroke="#000" stroke-width="3"/><path d="M12,2 L20,2 L14,10 M12,11 H20 V20 H12 Z" fill="none" stroke="#000" stroke-width="3"/></g>
<g transform="translate(574,661.2) scale(0.6,0.8)"><path d="M0,6 H6 M3,0 V20 M3,8 L0,14 M3,8 L6,12 M8,2 H20 M8,2 V12 Q8,18 6,20 M9,9 H19 L12,20 M12,10 L20,20" fill="none" stroke="#000" stroke-width="3"/></g>
<g transform="translate(970.5,671) rotate(-90) scale(0.75,0.8)"><path d="M4,0 L1,5 L7,7 L1,12 H9 M5,12 V20 M2,15 L0,19 M8,15 L10,19 M14,0 L12,6 M13,4 H20 V16 Q20,20 17,19 M14,9 L16,12" fill="none" stroke="#000" stroke-width="2.5"/></g>
</g>
</svg>
</body></html>
